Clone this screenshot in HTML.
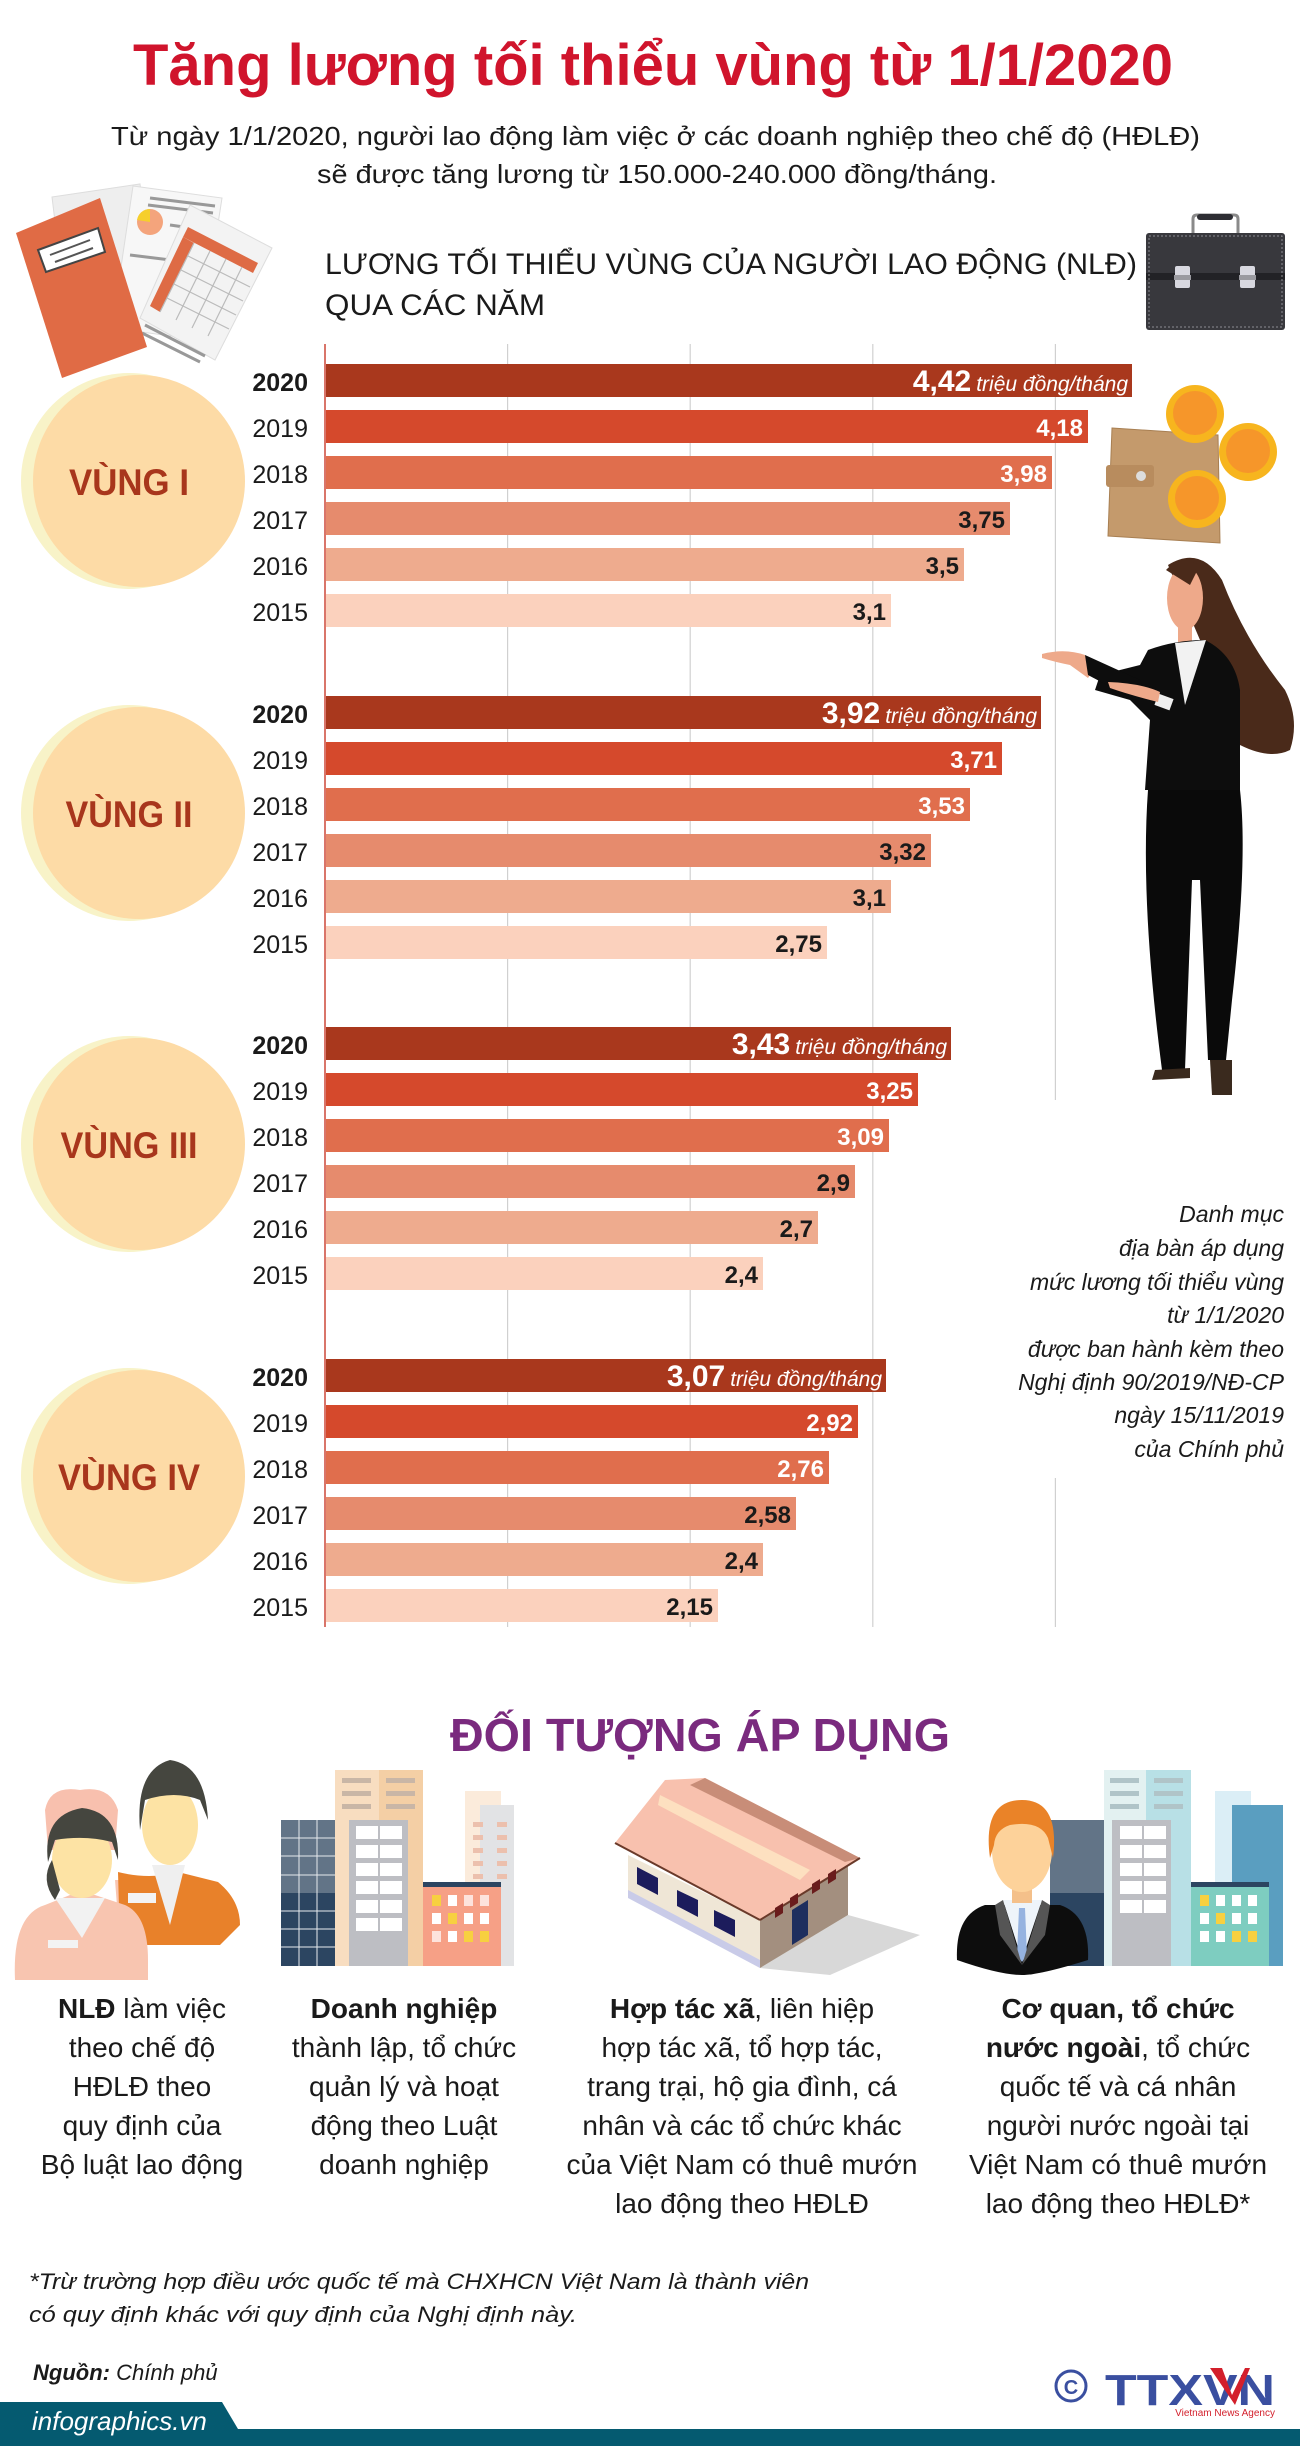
<!DOCTYPE html>
<html><head><meta charset="utf-8">
<style>
html,body{margin:0;padding:0;background:#fff;}
svg{display:block;}
text{font-family:"Liberation Sans","DejaVu Sans",sans-serif;}
</style></head>
<body>
<svg width="1300" height="2446" viewBox="0 0 1300 2446" xmlns="http://www.w3.org/2000/svg">
<rect width="1300" height="2446" fill="#fff"/>

<!-- Title -->
<text x="133" y="85" font-size="58" font-weight="bold" fill="#d0142c" textLength="1040" lengthAdjust="spacingAndGlyphs">Tăng lương tối thiểu vùng từ 1/1/2020</text>
<text x="111" y="145" font-size="26" fill="#1a1a1a" textLength="1089" lengthAdjust="spacingAndGlyphs">Từ ngày 1/1/2020, người lao động làm việc ở các doanh nghiệp theo chế độ (HĐLĐ)</text>
<text x="317" y="183" font-size="26" fill="#1a1a1a" textLength="680" lengthAdjust="spacingAndGlyphs">sẽ được tăng lương từ 150.000-240.000 đồng/tháng.</text>

<text x="325" y="274" font-size="30" fill="#1a1a1a" textLength="812" lengthAdjust="spacingAndGlyphs">LƯƠNG TỐI THIỂU VÙNG CỦA NGƯỜI LAO ĐỘNG (NLĐ)</text>
<text x="325" y="315" font-size="30" fill="#1a1a1a" textLength="220" lengthAdjust="spacingAndGlyphs">QUA CÁC NĂM</text>

<!-- papers icon -->
<g>
  <polygon points="52,197 140,184 160,330 70,345" fill="#eeeeee" stroke="#ddd"/>
  <polygon points="133,186 222,198 200,340 112,328" fill="#f7f7f7" stroke="#ddd"/>
  <circle cx="150" cy="222" r="13" fill="#f4a47c"/><path d="M150 222 L150 209 A13 13 0 0 0 137 220 Z" fill="#f6cf2c"/>
  <g stroke="#999" stroke-width="3"><line x1="150" y1="198" x2="215" y2="206"/><line x1="148" y1="205" x2="213" y2="213"/><line x1="170" y1="225" x2="205" y2="230"/><line x1="130" y1="255" x2="195" y2="263"/></g>
  <polygon points="190,205 272,248 215,360 140,318" fill="#f3f3f3" stroke="#ddd"/>
  <polygon points="188,227 258,263 253,273 183,237" fill="#de6b45"/>
  <polygon points="183,237 194,243 160,312 150,306" fill="#de6b45"/>
  <g stroke="#bbb" stroke-width="1.2" fill="none">
    <line x1="194" y1="243" x2="160" y2="312"/><line x1="210" y1="251" x2="176" y2="320"/><line x1="226" y1="259" x2="192" y2="328"/><line x1="242" y1="267" x2="208" y2="336"/>
    <line x1="188" y1="256" x2="250" y2="287"/><line x1="181" y1="270" x2="243" y2="301"/><line x1="174" y1="284" x2="236" y2="315"/><line x1="167" y1="298" x2="229" y2="329"/>
  </g>
  <g stroke="#999" stroke-width="3"><line x1="145" y1="325" x2="205" y2="356"/><line x1="142" y1="333" x2="200" y2="362"/></g>
  <polygon points="16,233 100,198 147,347 62,378" fill="#e06b45"/>
  <polygon points="38,250 98,228 105,252 46,272" fill="#fff" stroke="#444" stroke-width="2"/>
  <line x1="50" y1="255" x2="90" y2="240" stroke="#555" stroke-width="2"/><line x1="55" y1="262" x2="93" y2="248" stroke="#555" stroke-width="2"/>
</g>

<!-- briefcase -->
<g>
  <path d="M1193 233 V219 Q1193 215 1197 215 H1234 Q1238 215 1238 219 V233" fill="none" stroke="#8a8a8a" stroke-width="3"/>
  <rect x="1197" y="214" width="36" height="6" rx="3" fill="#2e2e33"/>
  <rect x="1146" y="233" width="139" height="97" rx="3" fill="#38383d"/>
  <rect x="1146" y="273" width="139" height="7" fill="#222226"/>
  <rect x="1149" y="236" width="133" height="91" fill="none" stroke="#8d8d92" stroke-width="1" stroke-dasharray="2,2"/>
  <rect x="1175" y="266" width="15" height="22" rx="2" fill="#d8d8e0"/>
  <rect x="1240" y="266" width="15" height="22" rx="2" fill="#d8d8e0"/>
  <rect x="1174" y="275" width="17" height="5" fill="#9a9aa0"/><rect x="1239" y="275" width="17" height="5" fill="#9a9aa0"/>
</g>

<!-- grid + axis -->
<g stroke="#d0d0d0" stroke-width="1.2">
  <line x1="507.6" y1="344" x2="507.6" y2="1627"/>
  <line x1="690.2" y1="344" x2="690.2" y2="1627"/>
  <line x1="872.8" y1="344" x2="872.8" y2="1627"/>
  <line x1="1055.4" y1="344" x2="1055.4" y2="1100"/>
  <line x1="1055.4" y1="1478" x2="1055.4" y2="1627"/>
</g>

<!-- Group I -->
<g transform="translate(0,364)">
  <circle cx="129" cy="117" r="108" fill="#f8f3c8"/>
  <circle cx="139" cy="117" r="106" fill="#fddba6"/>
  <text x="129" y="131" font-size="37" font-weight="bold" fill="#a8361c" text-anchor="middle" textLength="120" lengthAdjust="spacingAndGlyphs">VÙNG I</text>
  <g font-size="25" fill="#1a1a1a" text-anchor="end">
    <text x="308" y="27" font-weight="bold">2020</text><text x="308" y="73">2019</text><text x="308" y="119">2018</text><text x="308" y="165">2017</text><text x="308" y="211">2016</text><text x="308" y="257">2015</text>
  </g>
  <rect x="325" y="0" width="807" height="33" fill="#a9381d"/>
  <rect x="325" y="46" width="763" height="33" fill="#d5492c"/>
  <rect x="325" y="92" width="727" height="33" fill="#e06e4d"/>
  <rect x="325" y="138" width="685" height="33" fill="#e68b6d"/>
  <rect x="325" y="184" width="639" height="33" fill="#eeab8e"/>
  <rect x="325" y="230" width="566" height="33" fill="#fbd1bd"/>
  <text x="1128" y="27" text-anchor="end" fill="#fff"><tspan font-size="30" font-weight="bold">4,42</tspan><tspan font-size="21" font-style="italic" dx="5">triệu đồng/tháng</tspan></text>
  <g font-size="24" font-weight="bold" text-anchor="end">
    <text x="1083" y="72" fill="#fff">4,18</text><text x="1047" y="118" fill="#fff">3,98</text><text x="1005" y="164" fill="#1a1a1a">3,75</text><text x="959" y="210" fill="#1a1a1a">3,5</text><text x="886" y="256" fill="#1a1a1a">3,1</text>
  </g>
</g>

<!-- Group II -->
<g transform="translate(0,696)">
  <circle cx="129" cy="117" r="108" fill="#f8f3c8"/>
  <circle cx="139" cy="117" r="106" fill="#fddba6"/>
  <text x="129" y="131" font-size="37" font-weight="bold" fill="#a8361c" text-anchor="middle" textLength="127" lengthAdjust="spacingAndGlyphs">VÙNG II</text>
  <g font-size="25" fill="#1a1a1a" text-anchor="end">
    <text x="308" y="27" font-weight="bold">2020</text><text x="308" y="73">2019</text><text x="308" y="119">2018</text><text x="308" y="165">2017</text><text x="308" y="211">2016</text><text x="308" y="257">2015</text>
  </g>
  <rect x="325" y="0" width="716" height="33" fill="#a9381d"/>
  <rect x="325" y="46" width="677" height="33" fill="#d5492c"/>
  <rect x="325" y="92" width="645" height="33" fill="#e06e4d"/>
  <rect x="325" y="138" width="606" height="33" fill="#e68b6d"/>
  <rect x="325" y="184" width="566" height="33" fill="#eeab8e"/>
  <rect x="325" y="230" width="502" height="33" fill="#fbd1bd"/>
  <text x="1037" y="27" text-anchor="end" fill="#fff"><tspan font-size="30" font-weight="bold">3,92</tspan><tspan font-size="21" font-style="italic" dx="5">triệu đồng/tháng</tspan></text>
  <g font-size="24" font-weight="bold" text-anchor="end">
    <text x="997" y="72" fill="#fff">3,71</text><text x="965" y="118" fill="#fff">3,53</text><text x="926" y="164" fill="#1a1a1a">3,32</text><text x="886" y="210" fill="#1a1a1a">3,1</text><text x="822" y="256" fill="#1a1a1a">2,75</text>
  </g>
</g>

<!-- Group III -->
<g transform="translate(0,1027)">
  <circle cx="129" cy="117" r="108" fill="#f8f3c8"/>
  <circle cx="139" cy="117" r="106" fill="#fddba6"/>
  <text x="129" y="131" font-size="37" font-weight="bold" fill="#a8361c" text-anchor="middle" textLength="137" lengthAdjust="spacingAndGlyphs">VÙNG III</text>
  <g font-size="25" fill="#1a1a1a" text-anchor="end">
    <text x="308" y="27" font-weight="bold">2020</text><text x="308" y="73">2019</text><text x="308" y="119">2018</text><text x="308" y="165">2017</text><text x="308" y="211">2016</text><text x="308" y="257">2015</text>
  </g>
  <rect x="325" y="0" width="626" height="33" fill="#a9381d"/>
  <rect x="325" y="46" width="593" height="33" fill="#d5492c"/>
  <rect x="325" y="92" width="564" height="33" fill="#e06e4d"/>
  <rect x="325" y="138" width="530" height="33" fill="#e68b6d"/>
  <rect x="325" y="184" width="493" height="33" fill="#eeab8e"/>
  <rect x="325" y="230" width="438" height="33" fill="#fbd1bd"/>
  <text x="947" y="27" text-anchor="end" fill="#fff"><tspan font-size="30" font-weight="bold">3,43</tspan><tspan font-size="21" font-style="italic" dx="5">triệu đồng/tháng</tspan></text>
  <g font-size="24" font-weight="bold" text-anchor="end">
    <text x="913" y="72" fill="#fff">3,25</text><text x="884" y="118" fill="#fff">3,09</text><text x="850" y="164" fill="#1a1a1a">2,9</text><text x="813" y="210" fill="#1a1a1a">2,7</text><text x="758" y="256" fill="#1a1a1a">2,4</text>
  </g>
</g>

<!-- Group IV -->
<g transform="translate(0,1359)">
  <circle cx="129" cy="117" r="108" fill="#f8f3c8"/>
  <circle cx="139" cy="117" r="106" fill="#fddba6"/>
  <text x="129" y="131" font-size="37" font-weight="bold" fill="#a8361c" text-anchor="middle" textLength="142" lengthAdjust="spacingAndGlyphs">VÙNG IV</text>
  <g font-size="25" fill="#1a1a1a" text-anchor="end">
    <text x="308" y="27" font-weight="bold">2020</text><text x="308" y="73">2019</text><text x="308" y="119">2018</text><text x="308" y="165">2017</text><text x="308" y="211">2016</text><text x="308" y="257">2015</text>
  </g>
  <rect x="325" y="0" width="561" height="33" fill="#a9381d"/>
  <rect x="325" y="46" width="533" height="33" fill="#d5492c"/>
  <rect x="325" y="92" width="504" height="33" fill="#e06e4d"/>
  <rect x="325" y="138" width="471" height="33" fill="#e68b6d"/>
  <rect x="325" y="184" width="438" height="33" fill="#eeab8e"/>
  <rect x="325" y="230" width="393" height="33" fill="#fbd1bd"/>
  <text x="882" y="27" text-anchor="end" fill="#fff"><tspan font-size="30" font-weight="bold">3,07</tspan><tspan font-size="21" font-style="italic" dx="5">triệu đồng/tháng</tspan></text>
  <g font-size="24" font-weight="bold" text-anchor="end">
    <text x="853" y="72" fill="#fff">2,92</text><text x="824" y="118" fill="#fff">2,76</text><text x="791" y="164" fill="#1a1a1a">2,58</text><text x="758" y="210" fill="#1a1a1a">2,4</text><text x="713" y="256" fill="#1a1a1a">2,15</text>
  </g>
</g>

<line x1="325" y1="344" x2="325" y2="1627" stroke="#d9756a" stroke-width="2"/>

<!-- coins & wallet -->
<g>
  <polygon points="1112,428 1218,435 1220,543 1108,536" fill="#c49a6c" stroke="#a87f52" stroke-width="1"/>
  <rect x="1106" y="465" width="48" height="22" rx="3" fill="#b88c5e"/>
  <circle cx="1141" cy="476" r="5" fill="#ddd"/>
  <circle cx="1195" cy="414" r="29" fill="#f7b51e"/><circle cx="1195" cy="413" r="22" fill="#f6962a"/>
  <circle cx="1248" cy="452" r="29" fill="#f7b51e"/><circle cx="1248" cy="451" r="22" fill="#f6962a"/>
  <circle cx="1197" cy="499" r="29" fill="#f7b51e"/><circle cx="1197" cy="498" r="22" fill="#f6962a"/>
</g>

<!-- woman -->
<g>
  <path d="M1168 565 Q1200 545 1222 580 Q1245 640 1285 690 Q1300 720 1290 750 Q1270 760 1240 745 Q1215 700 1200 640 Z" fill="#4a2a1a"/>
  <ellipse cx="1185" cy="598" rx="18" ry="32" fill="#eea98a"/>
  <path d="M1166 570 Q1180 555 1200 565 L1190 585 Z" fill="#4a2a1a"/>
  <rect x="1178" y="625" width="14" height="18" fill="#eea98a"/>
  <path d="M1148 650 Q1175 640 1205 640 Q1235 655 1240 690 L1240 790 L1145 790 L1150 720 L1130 700 L1095 690 L1100 675 L1140 665 Z" fill="#0d0d0d"/>
  <polygon points="1175,643 1206,640 1185,705" fill="#f2f2f2"/>
  <path d="M1042 654 Q1065 648 1085 655 L1095 668 L1088 678 L1070 665 Q1055 662 1042 658 Z" fill="#eea98a"/>
  <path d="M1085 655 L1140 680 L1145 695 L1135 700 L1088 675 Z" fill="#0d0d0d"/>
  <rect x="1156" y="696" width="16" height="12" fill="#eee" transform="rotate(20 1164 702)"/>
  <path d="M1108 682 Q1140 683 1160 692 L1158 702 Q1130 695 1110 688 Z" fill="#eea98a"/>
  <path d="M1148 790 L1240 790 Q1248 860 1232 1000 L1226 1060 L1208 1060 L1200 880 L1192 880 L1185 1070 L1162 1070 Q1140 900 1148 790 Z" fill="#0a0a0a"/>
  <path d="M1155 1070 L1190 1068 L1190 1078 L1152 1080 Z" fill="#3a2a1e"/>
  <path d="M1210 1060 L1232 1060 L1232 1095 L1212 1095 Z" fill="#3a2a1e"/>
</g>

<!-- italic note -->
<g font-size="23" font-style="italic" fill="#1a1a1a" text-anchor="end">
  <text x="1284" y="1222">Danh mục</text>
  <text x="1284" y="1256">địa bàn áp dụng</text>
  <text x="1284" y="1290">mức lương tối thiểu vùng</text>
  <text x="1284" y="1323">từ 1/1/2020</text>
  <text x="1284" y="1357">được ban hành kèm theo</text>
  <text x="1284" y="1390">Nghị định 90/2019/NĐ-CP</text>
  <text x="1284" y="1423">ngày 15/11/2019</text>
  <text x="1284" y="1457">của Chính phủ</text>
</g>

<!-- Section 2 -->
<text x="700" y="1751" font-size="46" font-weight="bold" fill="#7a2a7e" text-anchor="middle" textLength="500" lengthAdjust="spacingAndGlyphs">ĐỐI TƯỢNG ÁP DỤNG</text>

<!-- people icon -->
<g>
  <path d="M115 1880 L175 1880 Q200 1890 202 1935 L200 1925 L120 1945 Z" fill="#f9c5b0"/>
  <path d="M118 1872 Q150 1880 178 1872 L218 1882 Q240 1900 240 1925 L220 1945 L190 1945 L120 1945 Z" fill="#e8812a"/>
  <polygon points="152,1865 185,1865 170,1925" fill="#efefef"/>
  <ellipse cx="170" cy="1825" rx="28" ry="40" fill="#fde3a4"/>
  <path d="M140 1830 Q135 1770 170 1760 Q205 1765 208 1820 L200 1800 Q175 1790 145 1800 Z" fill="#45463f"/>
  <rect x="128" y="1893" width="28" height="10" fill="#f3f3f3"/>
  <path d="M45 1810 Q50 1785 80 1790 Q110 1785 118 1810 L115 1850 L48 1850 Z" fill="#f8c0ae"/>
  <path d="M15 1980 Q12 1915 45 1905 L70 1895 L95 1895 L125 1905 Q148 1915 148 1960 L148 1980 Z" fill="#f8c5b0"/>
  <polygon points="55,1898 105,1898 82,1938" fill="#f2f2f2"/>
  <ellipse cx="82" cy="1860" rx="30" ry="38" fill="#fde3a4"/>
  <path d="M48 1862 Q42 1815 82 1808 Q120 1812 118 1860 L112 1842 Q85 1835 55 1840 Z" fill="#45463f"/>
  <path d="M52 1860 Q40 1880 55 1900 L60 1890 Z" fill="#45463f"/>
  <rect x="48" y="1940" width="30" height="8" fill="#f3f3f3"/>
</g>

<!-- buildings icon 1 -->
<g>
  <rect x="335" y="1770" width="88" height="196" fill="#f8ddc0"/>
  <rect x="379" y="1770" width="44" height="196" fill="#f4cfa5"/>
  <g fill="#c9b6a6"><rect x="342" y="1778" width="29" height="5"/><rect x="386" y="1778" width="29" height="5"/><rect x="342" y="1791" width="29" height="5"/><rect x="386" y="1791" width="29" height="5"/><rect x="342" y="1804" width="29" height="5"/><rect x="386" y="1804" width="29" height="5"/></g>
  <rect x="465" y="1791" width="36" height="175" fill="#fbebdb"/>
  <rect x="480" y="1805" width="34" height="161" fill="#e2e3e5"/>
  <g fill="#ecc0ad"><rect x="473" y="1822" width="10" height="5"/><rect x="497" y="1822" width="10" height="5"/><rect x="473" y="1835" width="10" height="5"/><rect x="497" y="1835" width="10" height="5"/><rect x="473" y="1848" width="10" height="5"/><rect x="497" y="1848" width="10" height="5"/><rect x="473" y="1861" width="10" height="5"/><rect x="497" y="1861" width="10" height="5"/><rect x="473" y="1874" width="10" height="5"/><rect x="497" y="1874" width="10" height="5"/></g>
  <rect x="281" y="1820" width="54" height="73" fill="#627487"/>
  <rect x="281" y="1893" width="54" height="73" fill="#2c4561"/>
  <g stroke="#e7eaee" stroke-width="1"><line x1="299" y1="1820" x2="299" y2="1966"/><line x1="317" y1="1820" x2="317" y2="1966"/><line x1="281" y1="1838" x2="335" y2="1838"/><line x1="281" y1="1856" x2="335" y2="1856"/><line x1="281" y1="1875" x2="335" y2="1875"/><line x1="281" y1="1911" x2="335" y2="1911"/><line x1="281" y1="1929" x2="335" y2="1929"/><line x1="281" y1="1947" x2="335" y2="1947"/></g>
  <rect x="349" y="1820" width="59" height="146" fill="#bdbec3"/>
  <g fill="#fff"><rect x="356" y="1826" width="22" height="13"/><rect x="380" y="1826" width="22" height="13"/><rect x="356" y="1845" width="22" height="13"/><rect x="380" y="1845" width="22" height="13"/><rect x="356" y="1863" width="22" height="13"/><rect x="380" y="1863" width="22" height="13"/><rect x="356" y="1881" width="22" height="13"/><rect x="380" y="1881" width="22" height="13"/><rect x="356" y="1900" width="22" height="13"/><rect x="380" y="1900" width="22" height="13"/><rect x="356" y="1918" width="22" height="13"/><rect x="380" y="1918" width="22" height="13"/></g>
  <rect x="423" y="1882" width="78" height="84" fill="#f6a086"/>
  <rect x="423" y="1882" width="78" height="5" fill="#2c4561"/>
  <g fill="#fff"><rect x="432" y="1895" width="9" height="11" fill="#f7d040"/><rect x="448" y="1895" width="9" height="11"/><rect x="464" y="1895" width="9" height="11" fill="#fde3dc"/><rect x="480" y="1895" width="9" height="11" fill="#fde3dc"/><rect x="432" y="1913" width="9" height="11"/><rect x="448" y="1913" width="9" height="11" fill="#f7d040"/><rect x="464" y="1913" width="9" height="11"/><rect x="480" y="1913" width="9" height="11"/><rect x="432" y="1931" width="9" height="11" fill="#fde3dc"/><rect x="448" y="1931" width="9" height="11"/><rect x="464" y="1931" width="9" height="11" fill="#f7d040"/><rect x="480" y="1931" width="9" height="11" fill="#f7d040"/></g>
</g>

<!-- house icon -->
<g>
  <polygon points="760,1968 848,1915 920,1935 830,1975" fill="#d8d8d8"/>
  <polygon points="628,1855 760,1920 760,1968 628,1895" fill="#efe6d6"/>
  <polygon points="628,1890 760,1960 760,1968 628,1898" fill="#c9cbe8"/>
  <polygon points="760,1920 848,1862 848,1915 760,1968" fill="#a38f7f"/>
  <polygon points="615,1843 665,1780 705,1778 860,1858 760,1920" fill="#f8c1ae"/>
  <polygon points="705,1778 860,1858 845,1862 690,1785" fill="#c88d78"/>
  <polygon points="660,1795 810,1870 800,1880 658,1805" fill="#fde0c0"/>
  <line x1="615" y1="1843" x2="760" y2="1920" stroke="#6a3a2a" stroke-width="2"/>
  <line x1="760" y1="1920" x2="860" y2="1858" stroke="#6a3a2a" stroke-width="2"/>
  <g fill="#1c1c5c"><polygon points="637,1867 658,1878 658,1895 637,1884"/><polygon points="677,1890 698,1900 698,1917 677,1906"/><polygon points="714,1910 735,1920 735,1937 714,1926"/></g>
  <polygon points="792,1910 808,1900 808,1935 792,1945" fill="#1e2e5e"/>
  <g fill="#6a1c1c"><polygon points="775,1908 783,1903 783,1913 775,1918"/><polygon points="790,1898 798,1893 798,1903 790,1908"/><polygon points="812,1884 820,1879 820,1889 812,1894"/><polygon points="828,1874 836,1869 836,1879 828,1884"/></g>
</g>

<!-- businessman + buildings -->
<g>
  <rect x="1104" y="1770" width="87" height="196" fill="#e3f1f1"/>
  <rect x="1146" y="1770" width="45" height="196" fill="#b8e0e6"/>
  <g fill="#b0c4c8"><rect x="1110" y="1778" width="29" height="5"/><rect x="1154" y="1778" width="29" height="5"/><rect x="1110" y="1791" width="29" height="5"/><rect x="1154" y="1791" width="29" height="5"/><rect x="1110" y="1804" width="29" height="5"/><rect x="1154" y="1804" width="29" height="5"/></g>
  <rect x="1215" y="1791" width="36" height="175" fill="#dbeef6"/>
  <rect x="1232" y="1805" width="51" height="161" fill="#5a9ec0"/>
  <rect x="1050" y="1820" width="54" height="73" fill="#627487"/>
  <rect x="1050" y="1893" width="54" height="73" fill="#2c4561"/>
  <rect x="1112" y="1820" width="59" height="146" fill="#bdbec3"/>
  <g fill="#fff"><rect x="1120" y="1826" width="22" height="13"/><rect x="1144" y="1826" width="22" height="13"/><rect x="1120" y="1845" width="22" height="13"/><rect x="1144" y="1845" width="22" height="13"/><rect x="1120" y="1863" width="22" height="13"/><rect x="1144" y="1863" width="22" height="13"/><rect x="1120" y="1881" width="22" height="13"/><rect x="1144" y="1881" width="22" height="13"/><rect x="1120" y="1900" width="22" height="13"/><rect x="1144" y="1900" width="22" height="13"/></g>
  <rect x="1191" y="1882" width="78" height="84" fill="#7ecdc0"/>
  <rect x="1191" y="1882" width="78" height="5" fill="#2c4561"/>
  <g fill="#fff"><rect x="1200" y="1895" width="9" height="11" fill="#f7d040"/><rect x="1216" y="1895" width="9" height="11"/><rect x="1232" y="1895" width="9" height="11"/><rect x="1248" y="1895" width="9" height="11"/><rect x="1200" y="1913" width="9" height="11"/><rect x="1216" y="1913" width="9" height="11" fill="#f7d040"/><rect x="1232" y="1913" width="9" height="11"/><rect x="1248" y="1913" width="9" height="11"/><rect x="1200" y="1931" width="9" height="11"/><rect x="1216" y="1931" width="9" height="11"/><rect x="1232" y="1931" width="9" height="11" fill="#f7d040"/><rect x="1248" y="1931" width="9" height="11" fill="#f7d040"/></g>
  <path d="M957 1960 Q955 1915 985 1905 L1060 1905 Q1090 1915 1088 1960 Q1040 1975 1022 1975 Q1000 1975 957 1960 Z" fill="#0d0d0d"/>
  <polygon points="1003,1900 1042,1900 1022,1960" fill="#eef4fa"/>
  <polygon points="1019,1908 1025,1908 1027,1955 1022,1962 1017,1955" fill="#96b3e0"/>
  <polygon points="995,1905 1003,1900 1022,1965 1000,1935" fill="#555"/>
  <polygon points="1050,1905 1042,1900 1022,1965 1045,1935" fill="#555"/>
  <rect x="1012" y="1885" width="20" height="18" fill="#f4c08a"/>
  <ellipse cx="1022" cy="1850" rx="30" ry="42" fill="#fdd29a"/>
  <path d="M990 1858 Q982 1800 1022 1800 Q1060 1800 1053 1858 L1048 1838 Q1040 1820 1010 1825 Q995 1830 994 1845 Z" fill="#ea8328"/>
</g>

<!-- column texts -->
<g font-size="28" fill="#1a1a1a" text-anchor="middle">
  <text x="142" y="2018"><tspan font-weight="bold">NLĐ</tspan> làm việc</text>
  <text x="142" y="2057">theo chế độ</text>
  <text x="142" y="2096">HĐLĐ theo</text>
  <text x="142" y="2135">quy định của</text>
  <text x="142" y="2174">Bộ luật lao động</text>

  <text x="404" y="2018" font-weight="bold">Doanh nghiệp</text>
  <text x="404" y="2057">thành lập, tổ chức</text>
  <text x="404" y="2096">quản lý và hoạt</text>
  <text x="404" y="2135">động theo Luật</text>
  <text x="404" y="2174">doanh nghiệp</text>

  <text x="742" y="2018"><tspan font-weight="bold">Hợp tác xã</tspan>, liên hiệp</text>
  <text x="742" y="2057">hợp tác xã, tổ hợp tác,</text>
  <text x="742" y="2096">trang trại, hộ gia đình, cá</text>
  <text x="742" y="2135">nhân và các tổ chức khác</text>
  <text x="742" y="2174">của Việt Nam có thuê mướn</text>
  <text x="742" y="2213">lao động theo HĐLĐ</text>

  <text x="1118" y="2018" font-weight="bold">Cơ quan, tổ chức</text>
  <text x="1118" y="2057"><tspan font-weight="bold">nước ngoài</tspan>, tổ chức</text>
  <text x="1118" y="2096">quốc tế và cá nhân</text>
  <text x="1118" y="2135">người nước ngoài tại</text>
  <text x="1118" y="2174">Việt Nam có thuê mướn</text>
  <text x="1118" y="2213">lao động theo HĐLĐ*</text>
</g>

<!-- footnote -->
<g font-size="22" font-style="italic" fill="#1a1a1a">
  <text x="29" y="2289" textLength="780" lengthAdjust="spacingAndGlyphs">*Trừ trường hợp điều ước quốc tế mà CHXHCN Việt Nam là thành viên</text>
  <text x="29" y="2322" textLength="548" lengthAdjust="spacingAndGlyphs">có quy định khác với quy định của Nghị định này.</text>
  <text x="33" y="2380"><tspan font-weight="bold">Nguồn:</tspan> Chính phủ</text>
</g>

<!-- footer -->
<polygon points="0,2402 222,2402 238,2429 1300,2429 1300,2446 0,2446" fill="#055a70"/>
<text x="32" y="2430" font-size="26" font-style="italic" fill="#fff">infographics.vn</text>

<!-- TTXVN logo -->
<circle cx="1071" cy="2386" r="15" fill="none" stroke="#3a4fa0" stroke-width="3"/>
<text x="1071" y="2394" font-size="20" font-weight="bold" fill="#3a4fa0" text-anchor="middle">C</text>
<text x="1105" y="2405" font-size="44" font-weight="bold" fill="#3a4fa0" textLength="170" lengthAdjust="spacingAndGlyphs">TTXVN</text>
<path d="M1210 2368 L1222 2368 L1232 2395 L1245 2368 L1250 2368 L1235 2405 Z" fill="#d31f2b"/>
<text x="1275" y="2416" font-size="10" fill="#d31f2b" text-anchor="end">Vietnam News Agency</text>
</svg>
</body></html>
